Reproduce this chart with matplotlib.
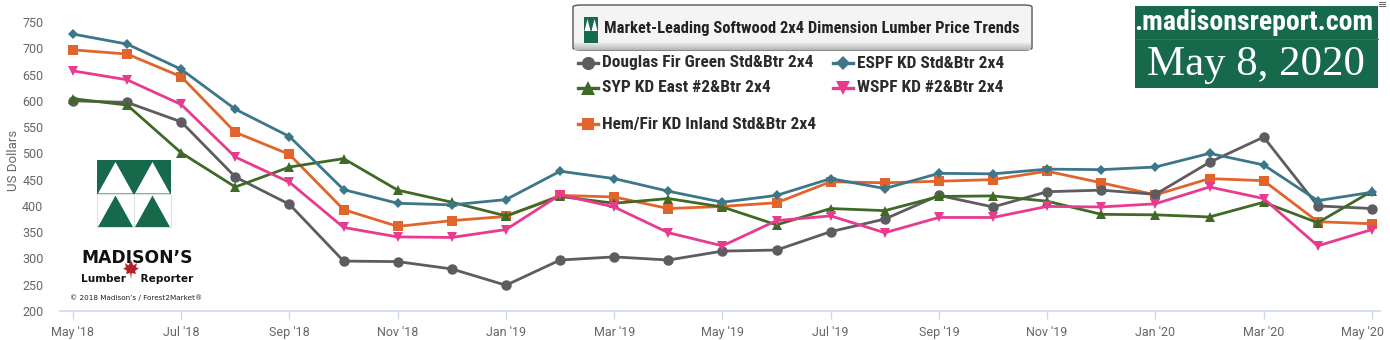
import matplotlib
matplotlib.use("Agg")
import matplotlib.pyplot as plt
from matplotlib import font_manager as fm
from matplotlib.font_manager import FontProperties
from matplotlib.patches import Rectangle, Polygon, FancyBboxPatch
from matplotlib.lines import Line2D
from matplotlib.transforms import ScaledTranslation
import numpy as np

# ---- data -------------------------------------------------------------
months = ["May '18", "Jun '18", "Jul '18", "Aug '18", "Sep '18", "Oct '18", "Nov '18",
          "Dec '18", "Jan '19", "Feb '19", "Mar '19", "Apr '19", "May '19", "Jun '19",
          "Jul '19", "Aug '19", "Sep '19", "Oct '19", "Nov '19", "Dec '19", "Jan '20",
          "Feb '20", "Mar '20", "Apr '20", "May '20"]

douglas_fir = [600, 597, 560, 455, 403, 295, 294, 280, 249, 297, 303, 297, 314, 316,
               351, 375, 420, 398, 427, 430, 422, 483, 531, 400, 395]
espf = [727, 708, 660, 584, 532, 431, 405, 402, 412, 466, 452, 428, 407, 420,
        452, 433, 462, 461, 470, 469, 474, 500, 478, 410, 426]
syp = [604, 592, 501, 436, 474, 490, 430, 407, 381, 418, 405, 414, 398, 364,
       395, 391, 418, 419, 409, 384, 383, 379, 407, 368, 428]
wspf = [657, 640, 593, 493, 445, 359, 341, 340, 355, 421, 398, 349, 324, 372,
        381, 349, 378, 378, 399, 398, 404, 436, 414, 324, 355]
hem_fir = [697, 689, 646, 540, 498, 393, 361, 372, 380, 420, 417, 395, 399, 406,
           446, 444, 447, 450, 466, 444, 421, 452, 448, 370, 366]

series_labels = ["Douglas Fir Green Std&Btr 2x4", "ESPF KD Std&Btr 2x4",
                 "SYP KD East #2&Btr 2x4", "WSPF KD #2&Btr 2x4",
                 "Hem/Fir KD Inland Std&Btr 2x4"]
y_ticks = [200, 250, 300, 350, 400, 450, 500, 550, 600, 650, 700, 750]

# ---- styles -----------------------------------------------------------
C_GRAY = "#5c5c61"
C_BLUE = "#3b7689"
C_GREEN = "#3e6a26"
C_PINK = "#e83a8f"
C_ORANGE = "#e0642b"
BRAND = "#17694c"
AXIS_TXT = "#666666"
TICK_FONT = ["Roboto", "DejaVu Sans"]


def _weight(w):
    if isinstance(w, str):
        return fm.weight_dict.get(w, 400)
    return int(w)


def condensed_bold():
    """Pick a bold condensed face if one is installed."""
    prefs = ["Roboto Condensed", "Open Sans Condensed", "Liberation Sans Narrow",
             "Noto Sans", "DejaVu Sans", "Open Sans", "Roboto", "Inter", "Lato"]
    cands = []
    for f in fm.fontManager.ttflist:
        narrow = (f.stretch in ("condensed", "semi-condensed", "extra-condensed")
                  or "Condensed" in f.name or "Narrow" in f.name)
        if not narrow or f.style != "normal":
            continue
        try:
            rank = prefs.index(f.name)
        except ValueError:
            rank = len(prefs)
        cands.append((rank, abs(_weight(f.weight) - 700), f.fname))
    if cands:
        cands.sort()
        return FontProperties(fname=cands[0][2])
    return FontProperties(family="DejaVu Sans", weight="bold")


COND = condensed_bold()

styles = [
    (douglas_fir, C_GRAY, "o", 7.5),
    (espf, C_BLUE, "D", 5.0),
    (syp, C_GREEN, "^", 7.5),
    (wspf, C_PINK, "v", 7.5),
    (hem_fir, C_ORANGE, "s", 7.0),
]

W, H = 1390, 340
fig = plt.figure(figsize=(W / 100, H / 100), dpi=100)
fig.patch.set_facecolor("white")
renderer = fig.canvas.get_renderer()


def fx(px):
    return px / W


def fy(py):
    return 1 - py / H


def fit_width(t, target_px):
    """Scale a text's size so it spans the given width in pixels."""
    w = t.get_window_extent(renderer).width
    if w > 0:
        t.set_fontsize(t.get_fontsize() * target_px / w)
    return t


AX_L, AX_R, AX_T, AX_B = 60, 1380, 22, 311
ax = fig.add_axes([fx(AX_L), fy(AX_B), fx(AX_R) - fx(AX_L), fy(AX_T) - fy(AX_B)])
x = np.arange(len(months))

zorders = {4: 3.0, 0: 3.1, 2: 3.2, 3: 3.3, 1: 3.4}
for i in range(5):
    vals, col, mk, ms = styles[i]
    ax.plot(x, vals, color=col, marker=mk, markersize=ms, linewidth=2.0,
            markeredgewidth=0, zorder=zorders[i])

ax.set_xlim(-0.24, 24.15)
ax.set_ylim(200, 750)
ax.set_yticks(y_ticks)
ax.set_xticks(x[::2])
ax.set_xticklabels(months[::2])
for s in ["top", "right", "left"]:
    ax.spines[s].set_visible(False)
ax.spines["bottom"].set_color("#ccd6eb")
ax.spines["bottom"].set_linewidth(1.2)
ax.tick_params(axis="y", length=0, labelsize=9, labelcolor=AXIS_TXT, pad=12)
ax.tick_params(axis="x", length=6, width=1, color="#ccd6eb", labelsize=9,
               labelcolor=AXIS_TXT, pad=5)
for lab in ax.get_xticklabels() + ax.get_yticklabels():
    lab.set_family(TICK_FONT)
# keep the last month label inside the canvas
last = ax.get_xticklabels()[-1]
last.set_transform(last.get_transform() + ScaledTranslation(-9 / 100, 0, fig.dpi_scale_trans))
ax.set_ylabel("US Dollars", fontsize=9.5, color=AXIS_TXT, family=TICK_FONT)
ax.yaxis.set_label_coords((20 - AX_L) / (AX_R - AX_L), (AX_B - 160) / (AX_B - AX_T))

# ---- title box ----------------------------------------------------------
tb = FancyBboxPatch((fx(573), fy(50)), fx(1032) - fx(573), fy(5) - fy(50),
                    boxstyle="round,pad=0,rounding_size=0.006",
                    transform=fig.transFigure, facecolor="#f4f4f4",
                    edgecolor="#555555", linewidth=1.0, zorder=5)
fig.add_artist(tb)
for k in range(8):
    fig.add_artist(Rectangle((fx(574), fy(50 - k)), fx(1031) - fx(574), 1 / H,
                             transform=fig.transFigure,
                             facecolor=(0.72 + k * 0.03,) * 3, edgecolor="none",
                             zorder=5.1))
# small logo mark in the title box
fig.add_artist(Rectangle((fx(584), fy(43)), fx(14), fy(17) - fy(43),
                         transform=fig.transFigure, facecolor=BRAND,
                         edgecolor="none", zorder=6))
for cx in (584, 591):
    fig.add_artist(Polygon([(fx(cx + 0.5), fy(31)), (fx(cx + 6.5), fy(31)),
                            (fx(cx + 3.5), fy(19))], closed=True,
                           transform=fig.transFigure, facecolor="white",
                           edgecolor="none", zorder=6.1))
t = fig.text(fx(604), fy(28), "Market-Leading Softwood 2x4 Dimension Lumber Price Trends",
             fontproperties=COND, fontsize=13, color="#222222",
             va="center", ha="left", zorder=7)
fit_width(t, 412)

# ---- legend -------------------------------------------------------------
legend_pos = [(0, 578, 63), (1, 833, 63), (2, 578, 88), (3, 833, 88), (4, 578, 124)]
legend_texts = []
for i, lx, ly in legend_pos:
    vals, col, mk, ms = styles[i]
    fig.add_artist(Line2D([fx(lx), fx(lx + 20)], [fy(ly), fy(ly)],
                          transform=fig.transFigure, color=col, linewidth=2.4,
                          zorder=6))
    fig.add_artist(Line2D([fx(lx + 10)], [fy(ly)], transform=fig.transFigure,
                          color=col, marker=mk, markersize=ms + 2,
                          markeredgewidth=0, zorder=6.1))
    legend_texts.append(fig.text(fx(lx + 24), fy(ly), series_labels[i],
                                 fontproperties=COND, fontsize=13, color="#2b2b2b",
                                 va="center", ha="left", zorder=7))
w0 = legend_texts[0].get_window_extent(renderer).width
size = 13 * 210 / w0
for lt in legend_texts:
    lt.set_fontsize(size)

# ---- brand box (top right) ----------------------------------------------
box = Rectangle((fx(1135), fy(88)), fx(1378) - fx(1135), fy(6) - fy(88),
                transform=fig.transFigure, facecolor=BRAND, edgecolor="none",
                zorder=5)
fig.add_artist(box)
fig.add_artist(Line2D([fx(1135), fx(1378)], [fy(39), fy(39)],
                      transform=fig.transFigure, color="#2f7a5e",
                      linewidth=0.8, zorder=5.1))
t = fig.text(fx(1373), fy(23), ".madisonsreport.com", fontproperties=COND,
             fontsize=15, color="white", ha="right", va="center", zorder=6)
t.set_clip_path(box)
# size the visible part (without the leading dot) to the box width
probe = fig.text(0, 0, "madisonsreport.com", fontproperties=COND, fontsize=15)
pw = probe.get_window_extent(renderer).width
probe.remove()
t.set_fontsize(15 * 232 / pw)
t = fig.text(fx(1256), fy(65), "May 8, 2020",
             family=["Liberation Serif", "DejaVu Serif"],
             fontsize=28, color="white", ha="center", va="center", zorder=6)
fit_width(t, 218)
fig.text(fx(1383), fy(5), "\u2261", family=["DejaVu Sans"], fontsize=8,
         color="#555555", ha="center", va="center", zorder=6)

# ---- company logo (lower left) ------------------------------------------
L, R, T, B = 97, 171, 160, 227
M = (T + B) / 2
fig.add_artist(Rectangle((fx(L), fy(M)), fx(R) - fx(L), fy(T) - fy(M),
                         transform=fig.transFigure, facecolor=BRAND,
                         edgecolor="none", zorder=5))
half = (R - L) / 2
for k in range(2):
    x0 = L + k * half
    fig.add_artist(Polygon([(fx(x0 + 1), fy(M)), (fx(x0 + half - 1), fy(M)),
                            (fx(x0 + half / 2), fy(T + 2))], closed=True,
                           transform=fig.transFigure, facecolor="white",
                           edgecolor="none", zorder=5.1))
    fig.add_artist(Polygon([(fx(x0 + 1), fy(B)), (fx(x0 + half - 1), fy(B)),
                            (fx(x0 + half / 2), fy(M + 2))], closed=True,
                           transform=fig.transFigure, facecolor=BRAND,
                           edgecolor="none", zorder=5.1))
fig.add_artist(Rectangle((fx(L), fy(B)), fx(R) - fx(L), fy(M) - fy(B),
                         transform=fig.transFigure, facecolor="none",
                         edgecolor="#cfe0d8", linewidth=0.6, zorder=5.2))
fig.add_artist(Line2D([fx(L + half)] * 2, [fy(B), fy(M)], transform=fig.transFigure,
                      color="#cfe0d8", linewidth=0.6, zorder=5.2))

t = fig.text(fx(137.5), fy(258), "MADISON\u2019S", family=["DejaVu Sans"],
             fontweight="bold", fontsize=12.5, color="#111111", ha="center",
             va="center", zorder=6)
fit_width(t, 111)
t = fig.text(fx(137.5), fy(279), "Lumber    Reporter", family=["DejaVu Sans"],
             fontweight="bold", fontsize=9.5, color="#111111", ha="center",
             va="center", zorder=6)
fit_width(t, 113)
# maple leaf
leaf = np.array([[0, -9], [0.8, -3], [5, -4], [4, -1], [8, 2], [5, 2.5], [6, 7],
                 [2.5, 4.5], [0, 10], [-2.5, 4.5], [-6, 7], [-5, 2.5], [-8, 2],
                 [-4, -1], [-5, -4], [-0.8, -3]])
lx0, ly0 = 131, 270
fig.add_artist(Polygon([(fx(lx0 + px * 1.0), fy(ly0 - py * 1.0)) for px, py in leaf],
                       closed=True, transform=fig.transFigure,
                       facecolor="#b3202a", edgecolor="none", zorder=6.5))
t = fig.text(fx(136), fy(298), "\u00a9 2018 Madison\u2019s / Forest2Market\u00ae",
             family=["DejaVu Sans"], fontsize=5.6, color="#222222", ha="center",
             va="center", zorder=6)
fit_width(t, 134)

fig.savefig("out.png", dpi=100, facecolor="white")
